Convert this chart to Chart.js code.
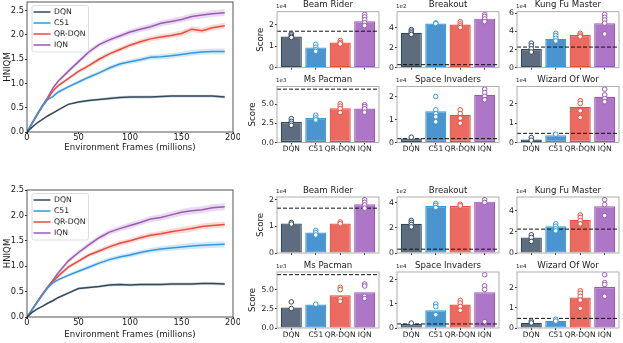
<!DOCTYPE html>
<html>
<head>
<meta charset="utf-8">
<script src="https://cdn.jsdelivr.net/npm/chart.js@4.4.1/dist/chart.umd.min.js"></script>
<style>
  html, body { margin: 0; padding: 0; background: #fff; }
  #fig { position: relative; width: 623px; height: 343px; overflow: hidden; background: #fff; }
  #fig canvas { position: absolute; }
</style>
</head>
<body>
<div id="fig"></div>
<script>
// ---- data ----
const methods = ['DQN', 'C51', 'QR-DQN', 'IQN'];
const lineColors = ['#34495e', '#3498db', '#e74c3c', '#9b59b6'];
const barFills = ['#5d6d7e', '#4b94cd', '#ec6b61', '#ad76c6'];

// environment frames (millions) at which HNIQM was recorded
const frames = [0, 5, 10, 15, 20, 25, 30, 40, 50, 60, 70, 80, 90, 100, 110, 120, 130, 140, 150, 160, 170, 180, 192];

// first set of runs: HNIQM mean curves
const dqnA = [0, 0.10, 0.19, 0.26, 0.33, 0.39, 0.45, 0.57, 0.62, 0.65, 0.67, 0.69, 0.71, 0.72, 0.72, 0.72, 0.73, 0.74, 0.74, 0.74, 0.74, 0.74, 0.72];
const c51A = [0, 0.18, 0.36, 0.53, 0.67, 0.73, 0.82, 0.93, 1.03, 1.13, 1.22, 1.32, 1.40, 1.45, 1.49, 1.54, 1.55, 1.57, 1.60, 1.63, 1.65, 1.66, 1.66];
const qrA  = [0, 0.18, 0.36, 0.53, 0.68, 0.84, 0.95, 1.10, 1.25, 1.37, 1.50, 1.61, 1.70, 1.79, 1.86, 1.92, 1.96, 1.99, 2.03, 2.12, 2.09, 2.15, 2.19];
const iqnA = [0, 0.19, 0.38, 0.55, 0.71, 0.90, 1.04, 1.25, 1.45, 1.65, 1.80, 1.90, 1.98, 2.06, 2.12, 2.17, 2.24, 2.28, 2.32, 2.38, 2.41, 2.44, 2.46];

// second set of runs: HNIQM mean curves
const dqnB = [0, 0.09, 0.16, 0.21, 0.27, 0.32, 0.38, 0.47, 0.56, 0.58, 0.60, 0.63, 0.64, 0.63, 0.64, 0.64, 0.64, 0.65, 0.65, 0.65, 0.66, 0.66, 0.65];
const c51B = [0, 0.14, 0.29, 0.43, 0.57, 0.67, 0.73, 0.82, 0.90, 0.98, 1.06, 1.13, 1.18, 1.22, 1.27, 1.31, 1.34, 1.36, 1.38, 1.40, 1.41, 1.42, 1.43];
const qrB  = [0, 0.15, 0.30, 0.45, 0.58, 0.70, 0.80, 0.98, 1.10, 1.22, 1.30, 1.38, 1.45, 1.50, 1.56, 1.61, 1.64, 1.68, 1.71, 1.74, 1.78, 1.80, 1.82];
const iqnB = [0, 0.15, 0.30, 0.45, 0.59, 0.72, 0.86, 1.10, 1.27, 1.42, 1.56, 1.67, 1.74, 1.80, 1.86, 1.93, 1.96, 2.01, 2.06, 2.09, 2.11, 2.15, 2.17];

// half-width of the shaded confidence band
const dqnBand = [0, 0.01, 0.01, 0.015, 0.015, 0.02, 0.02, 0.02, 0.025, 0.025, 0.025, 0.03, 0.03, 0.03, 0.03, 0.03, 0.03, 0.03, 0.03, 0.03, 0.03, 0.03, 0.03];
const c51Band = [0, 0.01, 0.015, 0.02, 0.02, 0.025, 0.03, 0.03, 0.035, 0.04, 0.04, 0.045, 0.045, 0.05, 0.05, 0.05, 0.055, 0.055, 0.055, 0.06, 0.06, 0.06, 0.06];
const qrBand  = [0, 0.01, 0.015, 0.02, 0.02, 0.025, 0.03, 0.035, 0.04, 0.04, 0.045, 0.045, 0.05, 0.05, 0.05, 0.055, 0.055, 0.055, 0.06, 0.06, 0.06, 0.06, 0.06];
const iqnBand = [0, 0.01, 0.015, 0.02, 0.025, 0.03, 0.035, 0.04, 0.045, 0.05, 0.05, 0.055, 0.055, 0.06, 0.06, 0.06, 0.065, 0.065, 0.065, 0.07, 0.07, 0.07, 0.07];

// per-game final scores (in units of each panel's exponent)
const games = ['Beam Rider', 'Breakout', 'Kung Fu Master', 'Ms Pacman', 'Space Invaders', 'Wizard Of Wor'];
const exponents = ['1e4', '1e2', '1e4', '1e3', '1e4', '1e4'];
const tickSteps = [1, 2, 2, 2.5, 1, 1];
const humanScores = [1.69, 0.305, 2.27, 6.95, 0.167, 0.476];

// first set: mean score per method, and each seed's score
const meansA = [
  [1.44, 0.94, 1.17, 2.15],
  [3.50, 4.43, 4.33, 4.93],
  [2.05, 3.17, 3.60, 4.90],
  [2.68, 3.20, 4.47, 4.43],
  [0.17, 1.36, 1.20, 2.07],
  [0.16, 0.38, 1.86, 2.38]
];
const seedsA = [
  [[1.58, 1.52, 1.45, 1.40], [1.08, 0.95, 0.83, 0.76], [1.26, 1.17, 1.10], [2.47, 2.35, 2.22, 2.08, 1.95]],
  [[3.83, 3.67, 3.50, 3.34], [4.50, 4.43], [4.63, 4.40, 4.20, 4.03], [5.36, 5.16, 4.90, 4.63]],
  [[2.70, 2.41, 2.09, 1.73], [3.78, 3.53, 3.24, 2.95], [3.78, 3.60, 3.42], [5.87, 5.55, 5.26, 4.90, 3.71]],
  [[3.11, 2.76, 2.50, 2.24], [3.55, 3.20, 2.94], [5.04, 4.74, 4.43, 3.90], [4.91, 4.69, 4.39, 3.95]],
  [[0.23], [2.00, 1.42, 1.25, 1.12, 0.90], [1.42, 1.26, 1.06, 0.84], [2.32, 2.17, 2.01, 1.86]],
  [[0.26, 0.12], [0.43], [2.17, 2.03, 1.65, 1.30], [2.77, 2.47, 2.28, 2.12]]
];

// second set: mean score per method, and each seed's score
const meansB = [
  [1.11, 0.77, 1.11, 1.84],
  [2.33, 3.76, 3.76, 4.10],
  [1.48, 2.55, 3.15, 4.44],
  [2.67, 3.06, 4.27, 4.66],
  [0.16, 0.73, 0.97, 1.47],
  [0.26, 0.36, 1.51, 2.03]
];
const seedsB = [
  [[1.15, 1.09], [0.85, 0.77, 0.68], [1.17, 1.10], [2.01, 1.91, 1.81, 1.69]],
  [[2.60, 2.44, 2.28, 2.09], [3.95, 3.81, 3.63], [3.89, 3.76], [4.26, 4.03]],
  [[1.73, 1.48, 1.10], [2.77, 2.55, 2.30, 2.11], [3.62, 3.37, 3.09, 2.77], [5.07, 4.60, 3.56]],
  [[3.40, 2.54], [3.10], [5.30, 5.00, 3.84, 3.49], [5.73, 5.47, 4.14, 3.84]],
  [[0.20], [0.99, 0.88, 0.55], [1.14, 1.03, 0.89, 0.73], [2.20, 1.74, 1.59, 0.26]],
  [[0.34, 0.25], [0.43, 0.34], [1.84, 1.72, 1.57, 1.38, 0.97], [2.64, 2.25, 2.15, 1.57]]
];

// ---- drawing ----
const FONT = "'DejaVu Sans', 'Liberation Sans', sans-serif";
Chart.defaults.font.family = FONT;
Chart.defaults.color = '#1a1a1a';
Chart.defaults.animation = false;
Chart.defaults.responsive = false;
Chart.defaults.plugins.legend.display = false;
Chart.defaults.plugins.tooltip.enabled = false;

const fig = document.getElementById('fig');
function addCanvas(left, top, w, h) {
  const c = document.createElement('canvas');
  c.width = w; c.height = h;
  c.style.left = left + 'px'; c.style.top = top + 'px';
  c.style.width = w + 'px'; c.style.height = h + 'px';
  fig.appendChild(c);
  return c;
}
function withAlpha(hex, a) {
  const n = parseInt(hex.slice(1), 16);
  return `rgba(${(n >> 16) & 255},${(n >> 8) & 255},${n & 255},${a})`;
}
const measureCtx = document.createElement('canvas').getContext('2d');

// box around the plotting area
const framePlugin = {
  id: 'frame',
  afterDatasetsDraw(chart, args, opts) {
    const { ctx, chartArea: a } = chart;
    ctx.save();
    ctx.strokeStyle = opts.color || '#333';
    ctx.lineWidth = opts.width || 0.8;
    ctx.strokeRect(a.left, a.top, a.right - a.left, a.bottom - a.top);
    ctx.restore();
  }
};

// panel title and axis exponent above each bar panel
const panelTextPlugin = {
  id: 'panelText',
  afterDraw(chart, args, opts) {
    if (!opts.title) return;
    const { ctx, chartArea: a } = chart;
    ctx.save();
    ctx.fillStyle = '#1a1a1a';
    ctx.textAlign = 'center';
    ctx.textBaseline = 'middle';
    ctx.font = `8.6px ${FONT}`;
    ctx.fillText(opts.title, (a.left + a.right) / 2, a.top - 6.5);
    ctx.textAlign = 'left';
    ctx.font = `5.5px ${FONT}`;
    ctx.fillText(opts.exponent, a.left - 1, a.top - 5.5);
    ctx.restore();
  }
};

// legend drawn inside the upper-left corner of the curve panels
const insetLegend = {
  id: 'insetLegend',
  afterDatasetsDraw(chart) {
    const { ctx, chartArea: a } = chart;
    const x0 = a.left + 5, y0 = a.top + 3.5, w = 56.5, h = 46.5;
    ctx.save();
    ctx.fillStyle = 'rgba(255,255,255,0.85)';
    ctx.strokeStyle = '#d4d4d4';
    ctx.lineWidth = 0.8;
    ctx.beginPath();
    if (ctx.roundRect) ctx.roundRect(x0, y0, w, h, 2); else ctx.rect(x0, y0, w, h);
    ctx.fill(); ctx.stroke();
    ctx.font = `7.7px ${FONT}`;
    ctx.textBaseline = 'middle';
    ctx.textAlign = 'left';
    methods.forEach((m, i) => {
      const y = y0 + 6.5 + i * 11;
      ctx.strokeStyle = lineColors[i];
      ctx.lineWidth = 1.5;
      ctx.beginPath(); ctx.moveTo(x0 + 1.5, y); ctx.lineTo(x0 + 18.5, y); ctx.stroke();
      ctx.fillStyle = '#1a1a1a';
      ctx.fillText(m, x0 + 22, y);
    });
    ctx.restore();
  }
};

function curveChart(top, height, padTop, areaH, xTitlePad, means, bands, yMax) {
  const canvas = addCanvas(0, top, 240, height);
  const datasets = [];
  means.forEach((mean, i) => {
    datasets.push({
      type: 'line', data: frames.map((f, k) => ({ x: f, y: mean[k] + bands[i][k] })),
      borderWidth: 0, pointRadius: 0, fill: '+1', backgroundColor: withAlpha(lineColors[i], 0.22), order: 2
    });
    datasets.push({
      type: 'line', data: frames.map((f, k) => ({ x: f, y: mean[k] - bands[i][k] })),
      borderWidth: 0, pointRadius: 0, fill: false, order: 2
    });
  });
  means.forEach((mean, i) => {
    datasets.push({
      type: 'line', data: frames.map((f, k) => ({ x: f, y: mean[k] })),
      borderColor: lineColors[i], borderWidth: 1.5, pointRadius: 0, fill: false, order: 1
    });
  });
  const tickFont = { size: 8.3, lineHeight: 1 };
  new Chart(canvas, {
    type: 'line',
    data: { datasets },
    plugins: [framePlugin, insetLegend],
    options: {
      layout: { padding: { top: padTop, right: 7, left: 0, bottom: 0 } },
      plugins: { frame: { color: '#2a2a2a', width: 0.8 } },
      scales: {
        x: {
          type: 'linear', min: 0, max: 200,
          ticks: { stepSize: 50, font: tickFont, padding: 0, maxRotation: 0 },
          grid: { display: true, drawOnChartArea: false, drawTicks: true, tickLength: 2, color: '#333' },
          border: { display: false },
          title: { display: true, text: 'Environment Frames (millions)', font: { size: 8.6, lineHeight: 1.2 }, padding: { top: 0, bottom: xTitlePad } },
          afterFit: s => { s.height = height - padTop - areaH; s.paddingLeft = 0; s.paddingRight = 0; }
        },
        y: {
          type: 'linear', min: 0, max: yMax,
          ticks: { stepSize: 0.5, includeBounds: false, font: tickFont, padding: 1, callback: v => v.toFixed(1) },
          grid: { display: true, drawOnChartArea: false, drawTicks: true, tickLength: 2, color: '#333' },
          border: { display: false },
          title: { display: true, text: 'HNIQM', font: { size: 8.6, lineHeight: 1.2 }, padding: { top: 2.3, bottom: 0 } },
          afterFit: s => { s.width = 27; s.paddingTop = 0; s.paddingBottom = 0; }
        }
      }
    }
  });
}

const xMin = -0.585, xMax = 3.585;
const panelW = 104, panelH = 56;
const panelCols = [277, 397, 517];
const barTickFont = { size: 7.8, lineHeight: 1 };

function barPanel(g, means, seeds, areaLeft, areaTop, showXLabels, withScore) {
  const allVals = [humanScores[g], ...means[g], ...seeds[g].flat()];
  const yMax = Math.max(...allVals) * 1.05;
  const step = tickSteps[g];
  const fmt = v => (step % 1 ? v.toFixed(1) : v.toFixed(0));

  // the "Score" label sits just left of the widest tick label
  measureCtx.font = `${barTickFont.size}px ${FONT}`;
  let widest = 0;
  for (let v = 0; v <= yMax + 1e-9; v += step) widest = Math.max(widest, measureCtx.measureText(fmt(v)).width);
  const scoreX = areaLeft - 3 - widest - 8.4;

  const padL = withScore ? areaLeft - scoreX + 7 : 22;
  const padR = 3, padB = 14;
  const left = Math.floor(areaLeft - padL);
  const top = Math.floor(areaTop - 14);
  const padLeftTotal = areaLeft - left;
  const padT = areaTop - top;
  const w = Math.ceil(padLeftTotal + panelW + padR);
  const h = Math.ceil(padT + panelH + padB);
  const canvas = addCanvas(left, top, w, h);

  const datasets = [];
  seeds[g].forEach((runs, i) => {
    datasets.push({
      type: 'scatter', data: runs.map(v => ({ x: i, y: v })),
      pointRadius: 2.3, borderWidth: 1, backgroundColor: '#ffffff', borderColor: lineColors[i], order: 0
    });
  });
  datasets.push({
    type: 'line', data: [{ x: xMin, y: humanScores[g] }, { x: xMax, y: humanScores[g] }],
    borderColor: '#111', borderWidth: 1, borderDash: [4, 2], pointRadius: 0, fill: false, order: 1
  });
  datasets.push({
    type: 'bar', data: means[g].map((v, i) => ({ x: i, y: v })),
    backgroundColor: barFills, borderColor: lineColors, borderWidth: 1.2, borderSkipped: false,
    barPercentage: 0.86, categoryPercentage: 1, order: 2
  });

  const tickGrid = { display: true, drawOnChartArea: false, drawTicks: true, tickLength: 2, color: '#333', offset: false };
  new Chart(canvas, {
    type: 'scatter',
    data: { datasets },
    plugins: [framePlugin, panelTextPlugin],
    options: {
      layout: { padding: { top: padT, right: w - padLeftTotal - panelW, left: 0, bottom: 0 } },
      plugins: {
        frame: { color: '#9a9a9a', width: 0.8 },
        panelText: { title: games[g], exponent: exponents[g] }
      },
      scales: {
        x: {
          type: 'linear', min: xMin, max: xMax, offset: false,
          afterBuildTicks: s => { s.ticks = methods.map((_, i) => ({ value: i })); },
          ticks: { display: showXLabels, autoSkip: false, maxRotation: 0, font: { size: 7.5, lineHeight: 1 }, padding: 1, callback: v => methods[v] },
          grid: tickGrid,
          border: { display: false },
          afterFit: s => { s.height = h - padT - panelH; s.paddingLeft = 0; s.paddingRight = 0; }
        },
        y: {
          type: 'linear', min: 0, max: yMax,
          ticks: { stepSize: step, includeBounds: false, font: barTickFont, padding: 1, callback: fmt },
          grid: tickGrid,
          border: { display: false },
          title: {
            display: withScore, text: 'Score', font: { size: 8.6, lineHeight: 1.2 },
            padding: { top: scoreX - left - 5.16, bottom: 0 }
          },
          afterFit: s => { s.width = padLeftTotal; s.paddingTop = 0; s.paddingBottom = 0; }
        }
      }
    }
  });
}

// first set of runs
curveChart(0, 165, 2, 130, 12.1, [dqnA, c51A, qrA, iqnA], [dqnBand, c51Band, qrBand, iqnBand], 2.68);
[11.7, 86.5].forEach((rowTop, r) => {
  panelCols.forEach((colLeft, c) => barPanel(r * 3 + c, meansA, seedsA, colLeft, rowTop, r === 1, c === 0));
});

// second set of runs
curveChart(172, 171, 18, 127, 3.5, [dqnB, c51B, qrB, iqnB], [dqnBand, c51Band, qrBand, iqnBand], 2.5);
[197, 272].forEach((rowTop, r) => {
  panelCols.forEach((colLeft, c) => barPanel(r * 3 + c, meansB, seedsB, colLeft, rowTop, r === 1, c === 0));
});
</script>
</body>
</html>
